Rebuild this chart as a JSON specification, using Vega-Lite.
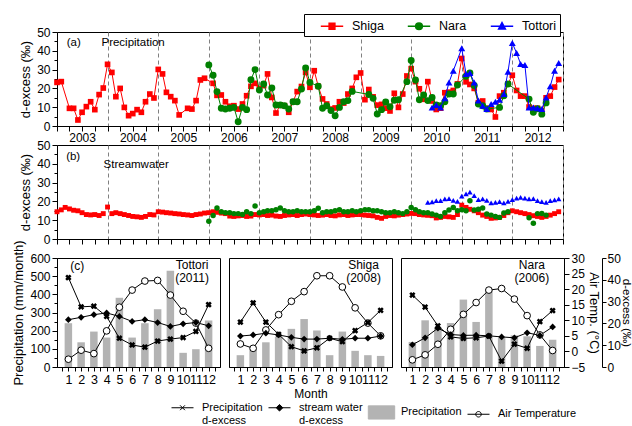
{
"$schema":"https://vega.github.io/schema/vega-lite/v6.json",
"background":"white",
"padding":{"left":12,"top":13,"right":0,"bottom":0},
"autosize":{"type":"pad"},
"config":{
 "font":"Liberation Sans",
 "view":{"stroke":"black","strokeWidth":1},
 "axis":{"domainColor":"black","tickColor":"black","labelColor":"black","titleColor":"black","labelFontSize":12,"titleFontSize":13,"titleFontWeight":"normal","grid":false,"tickSize":5,"labelPadding":2,"labelOverlap":false,"labelFlush":false},
 "point":{"opacity":1},
 "line":{"strokeWidth":1},
 "legend":{"labelColor":"black"}
},
"datasets":{
"pa":[
{"t":"2003-01-01","s":"Shiga","v":23.2},{"t":"2003-02-01","s":"Shiga","v":23.6},{"t":"2003-04-01","s":"Shiga","v":9.4},{"t":"2003-05-01","s":"Shiga","v":9.4},{"t":"2003-06-01","s":"Shiga","v":3.2},{"t":"2003-07-01","s":"Shiga","v":7.3},{"t":"2003-08-01","s":"Shiga","v":10.3},{"t":"2003-09-01","s":"Shiga","v":12.9},{"t":"2003-10-01","s":"Shiga","v":8.7},{"t":"2003-11-01","s":"Shiga","v":16.7},{"t":"2003-12-01","s":"Shiga","v":20.2},
{"t":"2004-01-01","s":"Shiga","v":32.8},{"t":"2004-02-01","s":"Shiga","v":28.5},{"t":"2004-03-01","s":"Shiga","v":15.6},{"t":"2004-04-01","s":"Shiga","v":20.0},{"t":"2004-05-01","s":"Shiga","v":9.9},{"t":"2004-06-01","s":"Shiga","v":5.5},{"t":"2004-07-01","s":"Shiga","v":6.6},{"t":"2004-08-01","s":"Shiga","v":8.7},{"t":"2004-09-01","s":"Shiga","v":7.3},{"t":"2004-10-01","s":"Shiga","v":12.9},{"t":"2004-11-01","s":"Shiga","v":17.0},{"t":"2004-12-01","s":"Shiga","v":14.9},
{"t":"2005-01-01","s":"Shiga","v":30.1},{"t":"2005-02-01","s":"Shiga","v":27.7},{"t":"2005-03-01","s":"Shiga","v":17.9},{"t":"2005-04-01","s":"Shiga","v":15.6},{"t":"2005-05-01","s":"Shiga","v":13.5},{"t":"2005-06-01","s":"Shiga","v":5.9},{"t":"2005-08-01","s":"Shiga","v":9.4},{"t":"2005-09-01","s":"Shiga","v":9.0},{"t":"2005-10-01","s":"Shiga","v":13.5},{"t":"2005-11-01","s":"Shiga","v":24.5},{"t":"2005-12-01","s":"Shiga","v":25.4},
{"t":"2006-02-01","s":"Shiga","v":22.7},{"t":"2006-03-01","s":"Shiga","v":16.3},{"t":"2006-04-01","s":"Shiga","v":16.5},{"t":"2006-05-01","s":"Shiga","v":12.9},{"t":"2006-06-01","s":"Shiga","v":10.5},{"t":"2006-07-01","s":"Shiga","v":10.8},{"t":"2006-08-01","s":"Shiga","v":9.0},{"t":"2006-09-01","s":"Shiga","v":11.7},{"t":"2006-10-01","s":"Shiga","v":16.1},{"t":"2006-11-01","s":"Shiga","v":21.1},{"t":"2006-12-01","s":"Shiga","v":22.7},
{"t":"2007-01-01","s":"Shiga","v":20.0},{"t":"2007-02-01","s":"Shiga","v":21.5},{"t":"2007-03-01","s":"Shiga","v":27.7},{"t":"2007-04-01","s":"Shiga","v":15.2},{"t":"2007-05-01","s":"Shiga","v":6.9},{"t":"2007-06-01","s":"Shiga","v":11.2},{"t":"2007-07-01","s":"Shiga","v":10.8},{"t":"2007-08-01","s":"Shiga","v":7.3},{"t":"2007-09-01","s":"Shiga","v":12.9},{"t":"2007-10-01","s":"Shiga","v":18.3},{"t":"2007-11-01","s":"Shiga","v":21.0},{"t":"2007-12-01","s":"Shiga","v":28.5},
{"t":"2008-01-01","s":"Shiga","v":20.6},{"t":"2008-02-01","s":"Shiga","v":29.4},{"t":"2008-03-01","s":"Shiga","v":21.1},{"t":"2008-04-01","s":"Shiga","v":14.4},{"t":"2008-05-01","s":"Shiga","v":11.7},{"t":"2008-06-01","s":"Shiga","v":9.0},{"t":"2008-07-01","s":"Shiga","v":9.6},{"t":"2008-08-01","s":"Shiga","v":12.9},{"t":"2008-09-01","s":"Shiga","v":12.2},{"t":"2008-10-01","s":"Shiga","v":17.0},{"t":"2008-11-01","s":"Shiga","v":20.0},{"t":"2008-12-01","s":"Shiga","v":25.9},
{"t":"2009-01-01","s":"Shiga","v":28.2},{"t":"2009-02-01","s":"Shiga","v":14.0},{"t":"2009-03-01","s":"Shiga","v":19.4},{"t":"2009-04-01","s":"Shiga","v":15.5},{"t":"2009-05-01","s":"Shiga","v":11.1},{"t":"2009-06-01","s":"Shiga","v":11.5},{"t":"2009-07-01","s":"Shiga","v":9.5},{"t":"2009-08-01","s":"Shiga","v":8.0},{"t":"2009-09-01","s":"Shiga","v":17.4},{"t":"2009-10-01","s":"Shiga","v":9.9},{"t":"2009-11-01","s":"Shiga","v":17.0},{"t":"2009-12-01","s":"Shiga","v":26.6},
{"t":"2010-01-01","s":"Shiga","v":30.5},{"t":"2010-02-01","s":"Shiga","v":23.6},{"t":"2010-03-01","s":"Shiga","v":19.8},{"t":"2010-04-01","s":"Shiga","v":14.2},{"t":"2010-05-01","s":"Shiga","v":23.6},{"t":"2010-06-01","s":"Shiga","v":13.3},{"t":"2010-07-01","s":"Shiga","v":8.8},{"t":"2010-08-01","s":"Shiga","v":9.5},{"t":"2010-09-01","s":"Shiga","v":17.7},{"t":"2010-10-01","s":"Shiga","v":18.0},{"t":"2010-11-01","s":"Shiga","v":18.9},{"t":"2010-12-01","s":"Shiga","v":22.4},
{"t":"2011-01-01","s":"Shiga","v":35.9},{"t":"2011-02-01","s":"Shiga","v":23.5},{"t":"2011-03-01","s":"Shiga","v":22.1},{"t":"2011-04-01","s":"Shiga","v":20.0},{"t":"2011-05-01","s":"Shiga","v":12.4},{"t":"2011-06-01","s":"Shiga","v":13.3},{"t":"2011-07-01","s":"Shiga","v":9.4},{"t":"2011-08-01","s":"Shiga","v":8.8},{"t":"2011-09-01","s":"Shiga","v":4.8},{"t":"2011-10-01","s":"Shiga","v":15.9},{"t":"2011-11-01","s":"Shiga","v":17.7},{"t":"2011-12-01","s":"Shiga","v":22.4},
{"t":"2012-01-01","s":"Shiga","v":27.0},{"t":"2012-02-01","s":"Shiga","v":18.9},{"t":"2012-03-01","s":"Shiga","v":15.9},{"t":"2012-04-01","s":"Shiga","v":15.9},{"t":"2012-05-01","s":"Shiga","v":10.1},{"t":"2012-06-01","s":"Shiga","v":9.4},{"t":"2012-07-01","s":"Shiga","v":9.4},{"t":"2012-08-01","s":"Shiga","v":8.0},{"t":"2012-09-01","s":"Shiga","v":15.0},{"t":"2012-10-01","s":"Shiga","v":15.9},{"t":"2012-11-01","s":"Shiga","v":20.7},{"t":"2012-12-01","s":"Shiga","v":24.7},
{"t":"2006-01-01","s":"Nara","v":32.5},{"t":"2006-02-01","s":"Nara","v":27.0},{"t":"2006-03-01","s":"Nara","v":18.3},{"t":"2006-04-01","s":"Nara","v":9.4},{"t":"2006-05-01","s":"Nara","v":9.0},{"t":"2006-06-01","s":"Nara","v":9.4},{"t":"2006-07-01","s":"Nara","v":9.9},{"t":"2006-08-01","s":"Nara","v":2.3},{"t":"2006-09-01","s":"Nara","v":9.9},{"t":"2006-10-01","s":"Nara","v":8.7},{"t":"2006-11-01","s":"Nara","v":24.6},{"t":"2006-12-01","s":"Nara","v":30.0},
{"t":"2007-01-01","s":"Nara","v":19.1},{"t":"2007-02-01","s":"Nara","v":22.3},{"t":"2007-03-01","s":"Nara","v":16.5},{"t":"2007-04-01","s":"Nara","v":20.2},{"t":"2007-05-01","s":"Nara","v":11.2},{"t":"2007-06-01","s":"Nara","v":11.2},{"t":"2007-07-01","s":"Nara","v":10.8},{"t":"2007-08-01","s":"Nara","v":9.0},{"t":"2007-09-01","s":"Nara","v":12.9},{"t":"2007-10-01","s":"Nara","v":12.9},{"t":"2007-11-01","s":"Nara","v":19.7},{"t":"2007-12-01","s":"Nara","v":30.9},
{"t":"2008-01-01","s":"Nara","v":23.2},{"t":"2008-03-01","s":"Nara","v":21.1},{"t":"2008-04-01","s":"Nara","v":9.4},{"t":"2008-05-01","s":"Nara","v":10.8},{"t":"2008-06-01","s":"Nara","v":8.2},{"t":"2008-07-01","s":"Nara","v":5.5},{"t":"2008-08-01","s":"Nara","v":9.9},{"t":"2008-09-01","s":"Nara","v":12.9},{"t":"2008-10-01","s":"Nara","v":13.5},{"t":"2008-11-01","s":"Nara","v":18.4},
{"t":"2009-03-01","s":"Nara","v":16.8},{"t":"2009-04-01","s":"Nara","v":14.7},{"t":"2009-05-01","s":"Nara","v":6.4},{"t":"2009-06-01","s":"Nara","v":8.7},{"t":"2009-07-01","s":"Nara","v":12.8},{"t":"2009-08-01","s":"Nara","v":10.2},{"t":"2009-09-01","s":"Nara","v":13.7},{"t":"2009-10-01","s":"Nara","v":14.0},{"t":"2009-12-01","s":"Nara","v":23.6},
{"t":"2010-01-01","s":"Nara","v":34.8},{"t":"2010-02-01","s":"Nara","v":24.5},{"t":"2010-03-01","s":"Nara","v":14.0},{"t":"2010-04-01","s":"Nara","v":16.5},{"t":"2010-05-01","s":"Nara","v":13.5},{"t":"2010-06-01","s":"Nara","v":15.2},{"t":"2010-07-01","s":"Nara","v":11.2},{"t":"2010-08-01","s":"Nara","v":10.8},{"t":"2010-09-01","s":"Nara","v":12.9},{"t":"2010-10-01","s":"Nara","v":17.0},{"t":"2010-11-01","s":"Nara","v":17.0},{"t":"2010-12-01","s":"Nara","v":21.8},
{"t":"2011-02-01","s":"Nara","v":26.5},{"t":"2011-03-01","s":"Nara","v":28.2},{"t":"2011-04-01","s":"Nara","v":21.5},{"t":"2011-05-01","s":"Nara","v":11.7},{"t":"2011-06-01","s":"Nara","v":10.8},{"t":"2011-07-01","s":"Nara","v":9.0},{"t":"2011-10-01","s":"Nara","v":9.9},{"t":"2011-11-01","s":"Nara","v":16.1},{"t":"2011-12-01","s":"Nara","v":22.3},
{"t":"2012-05-01","s":"Nara","v":14.3},{"t":"2012-06-01","s":"Nara","v":7.3},{"t":"2012-07-01","s":"Nara","v":9.2},{"t":"2012-08-01","s":"Nara","v":6.3},{"t":"2012-09-01","s":"Nara","v":12.3},
{"t":"2010-06-01","s":"Tottori","v":9.9},{"t":"2010-07-01","s":"Tottori","v":11.2},{"t":"2010-08-01","s":"Tottori","v":9.9},{"t":"2010-09-01","s":"Tottori","v":14.7},{"t":"2010-10-01","s":"Tottori","v":23.2},{"t":"2010-11-01","s":"Tottori","v":29.4},
{"t":"2011-01-01","s":"Tottori","v":41.3},{"t":"2011-02-01","s":"Tottori","v":27.7},{"t":"2011-03-01","s":"Tottori","v":28.2},{"t":"2011-04-01","s":"Tottori","v":23.2},{"t":"2011-05-01","s":"Tottori","v":13.5},{"t":"2011-06-01","s":"Tottori","v":10.8},{"t":"2011-07-01","s":"Tottori","v":9.0},{"t":"2011-08-01","s":"Tottori","v":11.7},{"t":"2011-09-01","s":"Tottori","v":12.9},{"t":"2011-10-01","s":"Tottori","v":14.0},{"t":"2011-11-01","s":"Tottori","v":17.0},{"t":"2011-12-01","s":"Tottori","v":28.9},
{"t":"2012-01-01","s":"Tottori","v":44.1},{"t":"2012-02-01","s":"Tottori","v":38.8},{"t":"2012-03-01","s":"Tottori","v":33.0},{"t":"2012-04-01","s":"Tottori","v":32.4},{"t":"2012-05-01","s":"Tottori","v":9.9},{"t":"2012-06-01","s":"Tottori","v":9.9},{"t":"2012-07-01","s":"Tottori","v":9.4},{"t":"2012-08-01","s":"Tottori","v":9.0},{"t":"2012-09-01","s":"Tottori","v":15.2},{"t":"2012-10-01","s":"Tottori","v":21.1},{"t":"2012-11-01","s":"Tottori","v":29.4},{"t":"2012-12-01","s":"Tottori","v":33.5}
],
"pb":[
{"t":"2003-01-01","s":"Shiga","v":14.5},{"t":"2003-02-01","s":"Shiga","v":15.5},{"t":"2003-03-01","s":"Shiga","v":16.8},{"t":"2003-04-01","s":"Shiga","v":16.0},{"t":"2003-05-01","s":"Shiga","v":15.3},{"t":"2003-06-01","s":"Shiga","v":15.0},{"t":"2003-07-01","s":"Shiga","v":14.0},{"t":"2003-08-01","s":"Shiga","v":13.0},{"t":"2003-09-01","s":"Shiga","v":12.8},{"t":"2003-10-01","s":"Shiga","v":13.0},{"t":"2003-11-01","s":"Shiga","v":12.5},{"t":"2003-12-01","s":"Shiga","v":13.5},
{"t":"2004-01-01","s":"Shiga","v":17.0},{"t":"2004-02-01","s":"Shiga","v":13.5},{"t":"2004-03-01","s":"Shiga","v":14.0},{"t":"2004-04-01","s":"Shiga","v":13.5},{"t":"2004-05-01","s":"Shiga","v":13.0},{"t":"2004-06-01","s":"Shiga","v":12.5},{"t":"2004-07-01","s":"Shiga","v":12.0},{"t":"2004-08-01","s":"Shiga","v":11.8},{"t":"2004-09-01","s":"Shiga","v":11.5},{"t":"2004-10-01","s":"Shiga","v":12.0},{"t":"2004-11-01","s":"Shiga","v":13.0},{"t":"2004-12-01","s":"Shiga","v":12.8},
{"t":"2005-01-01","s":"Shiga","v":14.5},{"t":"2005-02-01","s":"Shiga","v":14.3},{"t":"2005-03-01","s":"Shiga","v":14.0},{"t":"2005-04-01","s":"Shiga","v":13.8},{"t":"2005-05-01","s":"Shiga","v":13.5},{"t":"2005-06-01","s":"Shiga","v":13.3},{"t":"2005-07-01","s":"Shiga","v":13.0},{"t":"2005-08-01","s":"Shiga","v":12.8},{"t":"2005-09-01","s":"Shiga","v":12.5},{"t":"2005-10-01","s":"Shiga","v":13.0},{"t":"2005-11-01","s":"Shiga","v":13.3},{"t":"2005-12-01","s":"Shiga","v":13.8},
{"t":"2006-01-01","s":"Shiga","v":14.0},{"t":"2006-02-01","s":"Shiga","v":14.5},{"t":"2006-03-01","s":"Shiga","v":14.2},{"t":"2006-04-01","s":"Shiga","v":13.8},{"t":"2006-05-01","s":"Shiga","v":13.5},{"t":"2006-06-01","s":"Shiga","v":12.2},{"t":"2006-07-01","s":"Shiga","v":12.0},{"t":"2006-08-01","s":"Shiga","v":12.3},{"t":"2006-09-01","s":"Shiga","v":12.5},{"t":"2006-10-01","s":"Shiga","v":12.0},{"t":"2006-11-01","s":"Shiga","v":12.2},{"t":"2006-12-01","s":"Shiga","v":13.0},
{"t":"2007-01-01","s":"Shiga","v":12.8},{"t":"2007-02-01","s":"Shiga","v":13.0},{"t":"2007-03-01","s":"Shiga","v":12.5},{"t":"2007-04-01","s":"Shiga","v":12.7},{"t":"2007-05-01","s":"Shiga","v":12.2},{"t":"2007-06-01","s":"Shiga","v":12.0},{"t":"2007-07-01","s":"Shiga","v":12.5},{"t":"2007-08-01","s":"Shiga","v":12.8},{"t":"2007-09-01","s":"Shiga","v":13.0},{"t":"2007-10-01","s":"Shiga","v":12.5},{"t":"2007-11-01","s":"Shiga","v":13.0},{"t":"2007-12-01","s":"Shiga","v":13.3},
{"t":"2008-01-01","s":"Shiga","v":13.0},{"t":"2008-02-01","s":"Shiga","v":12.8},{"t":"2008-03-01","s":"Shiga","v":12.5},{"t":"2008-04-01","s":"Shiga","v":12.7},{"t":"2008-05-01","s":"Shiga","v":13.0},{"t":"2008-06-01","s":"Shiga","v":12.5},{"t":"2008-07-01","s":"Shiga","v":12.3},{"t":"2008-08-01","s":"Shiga","v":12.8},{"t":"2008-09-01","s":"Shiga","v":13.0},{"t":"2008-10-01","s":"Shiga","v":12.5},{"t":"2008-11-01","s":"Shiga","v":12.8},{"t":"2008-12-01","s":"Shiga","v":13.0},
{"t":"2009-01-01","s":"Shiga","v":13.0},{"t":"2009-02-01","s":"Shiga","v":12.7},{"t":"2009-03-01","s":"Shiga","v":12.5},{"t":"2009-04-01","s":"Shiga","v":12.3},{"t":"2009-05-01","s":"Shiga","v":11.5},{"t":"2009-06-01","s":"Shiga","v":11.0},{"t":"2009-07-01","s":"Shiga","v":12.0},{"t":"2009-08-01","s":"Shiga","v":12.5},{"t":"2009-09-01","s":"Shiga","v":12.3},{"t":"2009-10-01","s":"Shiga","v":12.7},{"t":"2009-11-01","s":"Shiga","v":13.0},{"t":"2009-12-01","s":"Shiga","v":13.3},
{"t":"2010-01-01","s":"Shiga","v":13.6},{"t":"2010-02-01","s":"Shiga","v":13.5},{"t":"2010-03-01","s":"Shiga","v":13.0},{"t":"2010-04-01","s":"Shiga","v":12.8},{"t":"2010-05-01","s":"Shiga","v":12.6},{"t":"2010-06-01","s":"Shiga","v":12.4},{"t":"2010-07-01","s":"Shiga","v":11.2},{"t":"2010-08-01","s":"Shiga","v":11.5},{"t":"2010-09-01","s":"Shiga","v":12.0},{"t":"2010-10-01","s":"Shiga","v":11.8},{"t":"2010-11-01","s":"Shiga","v":11.5},{"t":"2010-12-01","s":"Shiga","v":13.0},
{"t":"2011-01-01","s":"Shiga","v":18.0},{"t":"2011-02-01","s":"Shiga","v":16.8},{"t":"2011-03-01","s":"Shiga","v":15.8},{"t":"2011-04-01","s":"Shiga","v":15.0},{"t":"2011-05-01","s":"Shiga","v":14.0},{"t":"2011-06-01","s":"Shiga","v":12.7},{"t":"2011-07-01","s":"Shiga","v":12.0},{"t":"2011-08-01","s":"Shiga","v":11.0},{"t":"2011-09-01","s":"Shiga","v":11.2},{"t":"2011-10-01","s":"Shiga","v":11.5},{"t":"2011-11-01","s":"Shiga","v":12.5},{"t":"2011-12-01","s":"Shiga","v":14.0},
{"t":"2012-01-01","s":"Shiga","v":15.0},{"t":"2012-02-01","s":"Shiga","v":14.5},{"t":"2012-03-01","s":"Shiga","v":14.0},{"t":"2012-04-01","s":"Shiga","v":13.5},{"t":"2012-05-01","s":"Shiga","v":13.0},{"t":"2012-06-01","s":"Shiga","v":12.4},{"t":"2012-07-01","s":"Shiga","v":12.0},{"t":"2012-08-01","s":"Shiga","v":11.5},{"t":"2012-09-01","s":"Shiga","v":12.0},{"t":"2012-10-01","s":"Shiga","v":12.7},{"t":"2012-11-01","s":"Shiga","v":13.5},{"t":"2012-12-01","s":"Shiga","v":14.5},
{"t":"2006-01-01","s":"Nara","v":9.5},{"t":"2006-02-01","s":"Nara","v":12.5},{"t":"2006-03-01","s":"Nara","v":16.5},{"t":"2006-04-01","s":"Nara","v":14.5},{"t":"2006-05-01","s":"Nara","v":14.0},{"t":"2006-06-01","s":"Nara","v":14.0},{"t":"2006-07-01","s":"Nara","v":13.5},{"t":"2006-08-01","s":"Nara","v":13.5},{"t":"2006-09-01","s":"Nara","v":13.0},{"t":"2006-10-01","s":"Nara","v":14.5},{"t":"2006-11-01","s":"Nara","v":13.5},{"t":"2006-12-01","s":"Nara","v":17.5},
{"t":"2007-01-01","s":"Nara","v":14.0},{"t":"2007-02-01","s":"Nara","v":14.5},{"t":"2007-03-01","s":"Nara","v":15.0},{"t":"2007-04-01","s":"Nara","v":15.0},{"t":"2007-05-01","s":"Nara","v":15.5},{"t":"2007-06-01","s":"Nara","v":16.5},{"t":"2007-07-01","s":"Nara","v":15.0},{"t":"2007-08-01","s":"Nara","v":14.5},{"t":"2007-09-01","s":"Nara","v":14.5},{"t":"2007-10-01","s":"Nara","v":15.0},{"t":"2007-11-01","s":"Nara","v":14.5},{"t":"2007-12-01","s":"Nara","v":14.5},
{"t":"2008-01-01","s":"Nara","v":14.5},{"t":"2008-02-01","s":"Nara","v":15.0},{"t":"2008-03-01","s":"Nara","v":16.3},{"t":"2008-04-01","s":"Nara","v":14.0},{"t":"2008-05-01","s":"Nara","v":14.5},{"t":"2008-06-01","s":"Nara","v":14.5},{"t":"2008-07-01","s":"Nara","v":15.0},{"t":"2008-08-01","s":"Nara","v":15.5},{"t":"2008-09-01","s":"Nara","v":14.5},{"t":"2008-10-01","s":"Nara","v":14.5},{"t":"2008-11-01","s":"Nara","v":15.0},{"t":"2008-12-01","s":"Nara","v":14.5},
{"t":"2009-01-01","s":"Nara","v":15.0},{"t":"2009-02-01","s":"Nara","v":15.5},{"t":"2009-03-01","s":"Nara","v":15.5},{"t":"2009-04-01","s":"Nara","v":15.0},{"t":"2009-05-01","s":"Nara","v":15.0},{"t":"2009-06-01","s":"Nara","v":14.5},{"t":"2009-07-01","s":"Nara","v":14.0},{"t":"2009-08-01","s":"Nara","v":14.0},{"t":"2009-09-01","s":"Nara","v":14.5},{"t":"2009-10-01","s":"Nara","v":14.0},{"t":"2009-11-01","s":"Nara","v":13.5},{"t":"2009-12-01","s":"Nara","v":14.5},
{"t":"2010-01-01","s":"Nara","v":16.8},{"t":"2010-02-01","s":"Nara","v":15.5},{"t":"2010-03-01","s":"Nara","v":14.5},{"t":"2010-04-01","s":"Nara","v":14.0},{"t":"2010-05-01","s":"Nara","v":14.0},{"t":"2010-06-01","s":"Nara","v":13.3},{"t":"2010-07-01","s":"Nara","v":12.7},{"t":"2010-08-01","s":"Nara","v":12.0},{"t":"2010-09-01","s":"Nara","v":14.0},{"t":"2010-10-01","s":"Nara","v":15.4},{"t":"2010-11-01","s":"Nara","v":16.8},{"t":"2010-12-01","s":"Nara","v":15.0},
{"t":"2011-01-01","s":"Nara","v":15.5},{"t":"2011-02-01","s":"Nara","v":15.0},{"t":"2011-03-01","s":"Nara","v":20.4},{"t":"2011-04-01","s":"Nara","v":15.4},{"t":"2011-05-01","s":"Nara","v":15.8},{"t":"2011-06-01","s":"Nara","v":16.5},{"t":"2011-07-01","s":"Nara","v":13.3},{"t":"2011-08-01","s":"Nara","v":12.7},{"t":"2011-09-01","s":"Nara","v":12.0},{"t":"2011-10-01","s":"Nara","v":11.5},{"t":"2011-11-01","s":"Nara","v":13.8},{"t":"2011-12-01","s":"Nara","v":14.5},
{"t":"2012-05-01","s":"Nara","v":11.3},{"t":"2012-06-01","s":"Nara","v":8.4},{"t":"2012-07-01","s":"Nara","v":13.5},{"t":"2012-08-01","s":"Nara","v":13.6},{"t":"2012-09-01","s":"Nara","v":12.7},
{"t":"2010-05-01","s":"Tottori","v":19.5},{"t":"2010-06-01","s":"Tottori","v":19.8},{"t":"2010-07-01","s":"Tottori","v":20.4},{"t":"2010-08-01","s":"Tottori","v":20.4},{"t":"2010-09-01","s":"Tottori","v":21.3},{"t":"2010-10-01","s":"Tottori","v":21.5},{"t":"2010-11-01","s":"Tottori","v":20.5},{"t":"2010-12-01","s":"Tottori","v":20.0},
{"t":"2011-01-01","s":"Tottori","v":22.8},{"t":"2011-02-01","s":"Tottori","v":24.0},{"t":"2011-03-01","s":"Tottori","v":24.9},{"t":"2011-04-01","s":"Tottori","v":23.1},{"t":"2011-05-01","s":"Tottori","v":21.0},{"t":"2011-06-01","s":"Tottori","v":21.3},{"t":"2011-07-01","s":"Tottori","v":20.5},{"t":"2011-08-01","s":"Tottori","v":19.2},{"t":"2011-09-01","s":"Tottori","v":19.5},{"t":"2011-10-01","s":"Tottori","v":19.9},{"t":"2011-11-01","s":"Tottori","v":19.2},{"t":"2011-12-01","s":"Tottori","v":20.0},
{"t":"2012-01-01","s":"Tottori","v":21.0},{"t":"2012-02-01","s":"Tottori","v":21.7},{"t":"2012-03-01","s":"Tottori","v":22.2},{"t":"2012-04-01","s":"Tottori","v":21.7},{"t":"2012-05-01","s":"Tottori","v":21.3},{"t":"2012-06-01","s":"Tottori","v":21.5},{"t":"2012-07-01","s":"Tottori","v":20.4},{"t":"2012-08-01","s":"Tottori","v":19.9},{"t":"2012-09-01","s":"Tottori","v":19.5},{"t":"2012-10-01","s":"Tottori","v":20.4},{"t":"2012-11-01","s":"Tottori","v":20.8},{"t":"2012-12-01","s":"Tottori","v":21.3}
],
"pc":[
{"site":"Tottori","k":"P","m":1,"v":241},{"site":"Tottori","k":"P","m":2,"v":136},{"site":"Tottori","k":"P","m":3,"v":195},{"site":"Tottori","k":"P","m":4,"v":162},{"site":"Tottori","k":"P","m":5,"v":381},{"site":"Tottori","k":"P","m":6,"v":162},{"site":"Tottori","k":"P","m":7,"v":241},{"site":"Tottori","k":"P","m":8,"v":318},{"site":"Tottori","k":"P","m":9,"v":530},{"site":"Tottori","k":"P","m":10,"v":78},{"site":"Tottori","k":"P","m":11,"v":98},{"site":"Tottori","k":"P","m":12,"v":256},
{"site":"Tottori","k":"T","m":1,"v":-2.5},{"site":"Tottori","k":"T","m":2,"v":0.4},{"site":"Tottori","k":"T","m":3,"v":-0.7},{"site":"Tottori","k":"T","m":4,"v":6.6},{"site":"Tottori","k":"T","m":5,"v":14.2},{"site":"Tottori","k":"T","m":6,"v":19.7},{"site":"Tottori","k":"T","m":7,"v":22.6},{"site":"Tottori","k":"T","m":8,"v":22.8},{"site":"Tottori","k":"T","m":9,"v":18.1},{"site":"Tottori","k":"T","m":10,"v":12.9},{"site":"Tottori","k":"T","m":11,"v":9.1},{"site":"Tottori","k":"T","m":12,"v":1.0},
{"site":"Tottori","k":"dP","m":1,"v":41.0},{"site":"Tottori","k":"dP","m":2,"v":27.6},{"site":"Tottori","k":"dP","m":3,"v":27.9},{"site":"Tottori","k":"dP","m":4,"v":23.2},{"site":"Tottori","k":"dP","m":5,"v":13.2},{"site":"Tottori","k":"dP","m":6,"v":10.1},{"site":"Tottori","k":"dP","m":7,"v":9.1},{"site":"Tottori","k":"dP","m":8,"v":11.9},{"site":"Tottori","k":"dP","m":9,"v":12.8},{"site":"Tottori","k":"dP","m":10,"v":13.5},{"site":"Tottori","k":"dP","m":11,"v":16.3},{"site":"Tottori","k":"dP","m":12,"v":28.6},
{"site":"Tottori","k":"dS","m":1,"v":21.7},{"site":"Tottori","k":"dS","m":2,"v":22.8},{"site":"Tottori","k":"dS","m":3,"v":24.0},{"site":"Tottori","k":"dS","m":4,"v":24.8},{"site":"Tottori","k":"dS","m":5,"v":23.2},{"site":"Tottori","k":"dS","m":6,"v":20.9},{"site":"Tottori","k":"dS","m":7,"v":21.7},{"site":"Tottori","k":"dS","m":8,"v":20.4},{"site":"Tottori","k":"dS","m":9,"v":18.6},{"site":"Tottori","k":"dS","m":10,"v":19.8},{"site":"Tottori","k":"dS","m":11,"v":20.4},{"site":"Tottori","k":"dS","m":12,"v":18.9},
{"site":"Shiga","k":"P","m":1,"v":65},{"site":"Shiga","k":"P","m":2,"v":98},{"site":"Shiga","k":"P","m":3,"v":136},{"site":"Shiga","k":"P","m":4,"v":167},{"site":"Shiga","k":"P","m":5,"v":210},{"site":"Shiga","k":"P","m":6,"v":264},{"site":"Shiga","k":"P","m":7,"v":201},{"site":"Shiga","k":"P","m":8,"v":65},{"site":"Shiga","k":"P","m":9,"v":195},{"site":"Shiga","k":"P","m":10,"v":89},{"site":"Shiga","k":"P","m":11,"v":65},{"site":"Shiga","k":"P","m":12,"v":61},
{"site":"Shiga","k":"T","m":1,"v":2.4},{"site":"Shiga","k":"T","m":2,"v":1.0},{"site":"Shiga","k":"T","m":3,"v":6.9},{"site":"Shiga","k":"T","m":4,"v":11.8},{"site":"Shiga","k":"T","m":5,"v":16.1},{"site":"Shiga","k":"T","m":6,"v":19.2},{"site":"Shiga","k":"T","m":7,"v":24.3},{"site":"Shiga","k":"T","m":8,"v":24.3},{"site":"Shiga","k":"T","m":9,"v":20.7},{"site":"Shiga","k":"T","m":10,"v":14.0},{"site":"Shiga","k":"T","m":11,"v":9.1},{"site":"Shiga","k":"T","m":12,"v":5.0},
{"site":"Shiga","k":"dP","m":1,"v":20.6},{"site":"Shiga","k":"dP","m":2,"v":29.4},{"site":"Shiga","k":"dP","m":3,"v":20.6},{"site":"Shiga","k":"dP","m":4,"v":15.0},{"site":"Shiga","k":"dP","m":5,"v":9.3},{"site":"Shiga","k":"dP","m":6,"v":7.4},{"site":"Shiga","k":"dP","m":7,"v":8.8},{"site":"Shiga","k":"dP","m":8,"v":13.2},{"site":"Shiga","k":"dP","m":9,"v":11.6},{"site":"Shiga","k":"dP","m":10,"v":16.7},{"site":"Shiga","k":"dP","m":11,"v":20.4},{"site":"Shiga","k":"dP","m":12,"v":26.0},
{"site":"Shiga","k":"dS","m":1,"v":14.2},{"site":"Shiga","k":"dS","m":2,"v":14.7},{"site":"Shiga","k":"dS","m":3,"v":15.5},{"site":"Shiga","k":"dS","m":4,"v":14.7},{"site":"Shiga","k":"dS","m":5,"v":13.6},{"site":"Shiga","k":"dS","m":6,"v":12.8},{"site":"Shiga","k":"dS","m":7,"v":12.8},{"site":"Shiga","k":"dS","m":8,"v":13.2},{"site":"Shiga","k":"dS","m":9,"v":12.7},{"site":"Shiga","k":"dS","m":10,"v":13.2},{"site":"Shiga","k":"dS","m":11,"v":13.2},{"site":"Shiga","k":"dS","m":12,"v":14.2},
{"site":"Nara","k":"P","m":1,"v":138},{"site":"Nara","k":"P","m":2,"v":257},{"site":"Nara","k":"P","m":3,"v":220},{"site":"Nara","k":"P","m":4,"v":242},{"site":"Nara","k":"P","m":5,"v":371},{"site":"Nara","k":"P","m":6,"v":248},{"site":"Nara","k":"P","m":7,"v":422},{"site":"Nara","k":"P","m":8,"v":160},{"site":"Nara","k":"P","m":9,"v":174},{"site":"Nara","k":"P","m":10,"v":169},{"site":"Nara","k":"P","m":11,"v":116},{"site":"Nara","k":"P","m":12,"v":150},
{"site":"Nara","k":"T","m":1,"v":-2.7},{"site":"Nara","k":"T","m":2,"v":-1.1},{"site":"Nara","k":"T","m":3,"v":2.3},{"site":"Nara","k":"T","m":4,"v":7.1},{"site":"Nara","k":"T","m":5,"v":11.9},{"site":"Nara","k":"T","m":6,"v":15.7},{"site":"Nara","k":"T","m":7,"v":19.7},{"site":"Nara","k":"T","m":8,"v":20.2},{"site":"Nara","k":"T","m":9,"v":16.8},{"site":"Nara","k":"T","m":10,"v":11.5},{"site":"Nara","k":"T","m":11,"v":5.3},{"site":"Nara","k":"T","m":12,"v":0.3},
{"site":"Nara","k":"dP","m":1,"v":33.0},{"site":"Nara","k":"dP","m":2,"v":27.5},{"site":"Nara","k":"dP","m":3,"v":18.9},{"site":"Nara","k":"dP","m":4,"v":13.8},{"site":"Nara","k":"dP","m":5,"v":13.1},{"site":"Nara","k":"dP","m":6,"v":13.4},{"site":"Nara","k":"dP","m":7,"v":14.2},{"site":"Nara","k":"dP","m":8,"v":2.7},{"site":"Nara","k":"dP","m":9,"v":10.5},{"site":"Nara","k":"dP","m":10,"v":8.6},{"site":"Nara","k":"dP","m":11,"v":20.8},{"site":"Nara","k":"dP","m":12,"v":25.9},
{"site":"Nara","k":"dS","m":1,"v":10.2},{"site":"Nara","k":"dS","m":2,"v":13.4},{"site":"Nara","k":"dS","m":3,"v":17.8},{"site":"Nara","k":"dS","m":4,"v":14.9},{"site":"Nara","k":"dS","m":5,"v":14.5},{"site":"Nara","k":"dS","m":6,"v":14.6},{"site":"Nara","k":"dS","m":7,"v":14.3},{"site":"Nara","k":"dS","m":8,"v":13.8},{"site":"Nara","k":"dS","m":9,"v":13.4},{"site":"Nara","k":"dS","m":10,"v":15.7},{"site":"Nara","k":"dS","m":11,"v":14.5},{"site":"Nara","k":"dS","m":12,"v":18.4}
]
},
"bounds":"flush",
"spacing":19,
"resolve":{"scale":{"color":"independent","shape":"independent","size":"independent","fill":"independent","stroke":"independent","x":"independent","y":"independent"},"legend":{"color":"independent","shape":"independent","size":"independent","fill":"independent","stroke":"independent"}},
"vconcat":[
{
 "width":506,"height":94,
 "data":{"name":"pa"},
 "encoding":{
  "x":{"field":"t","type":"temporal","scale":{"type":"utc","domain":[{"year":2003,"month":1,"date":1,"utc":true},{"year":2013,"month":1,"date":1,"utc":true}]},
   "axis":{"title":null,"tickCount":{"interval":"month","step":3},"labelExpr":"utcmonth(datum.value)==6 ? ''+utcyear(datum.value) : ''","labelPadding":1,"tickSize":5,"grid":true,"gridColor":"#808080","gridDash":[4,3],"gridOpacity":{"condition":{"test":"utcmonth(datum.value)==0","value":1},"value":0}}},
  "y":{"field":"v","type":"quantitative","scale":{"domain":[0,50],"nice":false},
   "axis":{"title":"d-excess (‰)","values":[0,5,10,15,20,25,30,35,40,45,50],"labelExpr":"datum.value % 10 == 0 ? datum.label : ''","tickSize":{"condition":{"test":"datum.value % 10 == 0","value":5},"value":3},"titlePadding":4}}
 },
 "layer":[
  {"transform":[{"filter":"datum.s === 'Shiga'"}],"mark":{"type":"line","strokeWidth":1,"color":"#ff0000"},"encoding":{}},
  {"transform":[{"filter":"datum.s === 'Shiga'"}],"mark":{"type":"point","shape":"square","filled":true,"color":"#ff0000","size":32,"opacity":1},"encoding":{}},
  {"transform":[{"filter":"datum.s === 'Nara'"}],"mark":{"type":"line","strokeWidth":1,"color":"#008000"},"encoding":{}},
  {"transform":[{"filter":"datum.s === 'Nara'"}],"mark":{"type":"point","shape":"circle","filled":true,"color":"#008000","size":48,"opacity":1},"encoding":{}},
  {"transform":[{"filter":"datum.s === 'Tottori'"}],"mark":{"type":"line","strokeWidth":1,"color":"#0000ff"},"encoding":{}},
  {"transform":[{"filter":"datum.s === 'Tottori'"}],"mark":{"type":"point","shape":"triangle-up","filled":true,"color":"#0000ff","size":48,"opacity":1},"encoding":{}},
  {"transform":[{"filter":"false"}],"mark":{"type":"point","opacity":1,"strokeWidth":1.5},
   "encoding":{
    "shape":{"field":"s","type":"nominal","scale":{"domain":["Shiga","Nara","Tottori"],"range":["M-1.4,0H1.4M-0.36,-0.36H0.36V0.36H-0.36Z","M-1.4,0H1.4M0.42,0A0.42,0.42 0 1 1 -0.42,0A0.42,0.42 0 1 1 0.42,0Z","M-1.4,0H1.4M0,-0.45L0.42,0.33H-0.42Z"]},
     "legend":{"title":null,"orient":"none","legendX":247,"legendY":-18,"direction":"horizontal","strokeColor":"black","fillColor":"white","padding":3,"symbolSize":256,"symbolStrokeWidth":1.5,"symbolOffset":16,"labelOffset":11,"columnPadding":10,"labelFontSize":12.5}},
    "fill":{"field":"s","type":"nominal","scale":{"domain":["Shiga","Nara","Tottori"],"range":["#ff0000","#008000","#0000ff"]}},
    "stroke":{"field":"s","type":"nominal","scale":{"domain":["Shiga","Nara","Tottori"],"range":["#ff0000","#008000","#0000ff"]}}
   }},
  {"data":{"values":[{"t":"2003-03-12","v":43.9,"txt":"(a)"},{"t":"2003-11-18","v":43.9,"txt":"Precipitation"}]},
   "mark":{"type":"text","align":"left","baseline":"middle","fontSize":11.5,"color":"black"},
   "encoding":{"text":{"field":"txt"}}}
 ]
},
{
 "width":506,"height":94,
 "data":{"name":"pb"},
 "encoding":{
  "x":{"field":"t","type":"temporal","scale":{"type":"utc","domain":[{"year":2003,"month":1,"date":1,"utc":true},{"year":2013,"month":1,"date":1,"utc":true}]},
   "axis":{"title":null,"tickCount":{"interval":"month","step":3},"labels":false,"tickSize":5,"grid":true,"gridColor":"#808080","gridDash":[4,3],"gridOpacity":{"condition":{"test":"utcmonth(datum.value)==0","value":1},"value":0}}},
  "y":{"field":"v","type":"quantitative","scale":{"domain":[0,50],"nice":false},
   "axis":{"title":"d-excess (‰)","values":[0,5,10,15,20,25,30,35,40,45,50],"labelExpr":"datum.value % 10 == 0 ? datum.label : ''","tickSize":{"condition":{"test":"datum.value % 10 == 0","value":5},"value":3},"titlePadding":4}}
 },
 "layer":[
  {"transform":[{"filter":"datum.s === 'Shiga'"}],"mark":{"type":"point","shape":"square","filled":true,"color":"#ff0000","size":24,"opacity":1},"encoding":{}},
  {"transform":[{"filter":"datum.s === 'Nara'"}],"mark":{"type":"point","shape":"circle","filled":true,"color":"#008000","size":30,"opacity":1},"encoding":{}},
  {"transform":[{"filter":"datum.s === 'Tottori'"}],"mark":{"type":"point","shape":"triangle-up","filled":true,"color":"#0000ff","size":30,"opacity":1},"encoding":{}},
  {"data":{"values":[{"t":"2003-03-08","v":43.5,"txt":"(b)"},{"t":"2003-12-03","v":39.5,"txt":"Streamwater"}]},
   "mark":{"type":"text","align":"left","baseline":"middle","fontSize":11.5,"color":"black"},
   "encoding":{"text":{"field":"txt"}}}
 ]
},
{
 "bounds":"flush",
 "spacing":9,
 "hconcat":[
  {
   "width":163,"height":109,
   "data":{"name":"pc"},
   "transform":[{"filter":"datum.site === 'Tottori'"}],
   "encoding":{"x":{"field":"m","type":"quantitative","scale":{"domain":[0.5,12.5],"nice":false,"zero":false},"axis":{"title":null,"values":[0.5,1,1.5,2,2.5,3,3.5,4,4.5,5,5.5,6,6.5,7,7.5,8,8.5,9,9.5,10,10.5,11,11.5,12,12.5],"labelExpr":"datum.value % 1 == 0 ? '' + datum.value : ''","tickSize":4,"labelPadding":2,"labelFontSize":12.5}}},
   "layer":[
    {"transform":[{"filter":"datum.k === 'P'"}],"mark":{"type":"bar","size":7.5,"color":"#b3b3b3"},
     "encoding":{"y":{"field":"v","type":"quantitative","scale":{"domain":[0,600],"nice":false},"axis":{"title":"Precipitation (mm/month)","values":[0,50,100,150,200,250,300,350,400,450,500,550,600],"labelExpr":"datum.value % 100 == 0 ? datum.label : ''","tickSize":{"condition":{"test":"datum.value % 100 == 0","value":5},"value":3},"titlePadding":4}}}},
    {"transform":[{"filter":"datum.k === 'T'"}],"mark":{"type":"line","color":"black","strokeWidth":1},
     "encoding":{"y":{"field":"v","type":"quantitative","scale":{"domain":[-5,30],"nice":false,"zero":false},"axis":null}}},
    {"transform":[{"filter":"datum.k === 'dP' || datum.k === 'dS'"}],"mark":{"type":"line","color":"black","strokeWidth":1},
     "encoding":{"y":{"field":"v","type":"quantitative","scale":{"domain":[0,50],"nice":false},"axis":null},"detail":{"field":"k"}}},
    {"transform":[{"filter":"datum.k === 'T'"}],"mark":{"type":"point","shape":"circle","filled":true,"fill":"white","stroke":"black","strokeWidth":1,"size":45,"opacity":1},
     "encoding":{"y":{"field":"v","type":"quantitative","scale":{"domain":[-5,30],"nice":false,"zero":false},"axis":null}}},
    {"transform":[{"filter":"datum.k === 'dP'"}],"mark":{"type":"point","shape":"cross","filled":true,"color":"black","angle":45,"size":40,"opacity":1},
     "encoding":{"y":{"field":"v","type":"quantitative","scale":{"domain":[0,50],"nice":false},"axis":null}}},
    {"transform":[{"filter":"datum.k === 'dS'"}],"mark":{"type":"point","shape":"diamond","filled":true,"color":"black","size":45,"opacity":1},
     "encoding":{"y":{"field":"v","type":"quantitative","scale":{"domain":[0,50],"nice":false},"axis":null}}},
    {"transform":[{"filter":"false"}],"mark":{"type":"point","opacity":1,"strokeWidth":1},
     "encoding":{
      "shape":{"field":"k","type":"nominal","scale":{"domain":["dP","dS","P","T"],"range":["M-1,0H1M-0.22,-0.22L0.22,0.22M-0.22,0.22L0.22,-0.22","M-1,0H1M0,-0.3L0.3,0L0,0.3L-0.3,0Z","M-1.2,-0.6H1.2V0.6H-1.2Z","M-1,0H1M0.25,0A0.25,0.25 0 1 1 -0.25,0A0.25,0.25 0 1 1 0.25,0Z"]},
       "legend":{"title":null,"orient":"none","legendX":114,"legendY":138,"direction":"horizontal","padding":0,"symbolSize":484,"symbolStrokeWidth":1,"labelOffset":8,"columnPadding":3,"labelFontSize":11,"labelLimit":200,
        "labelExpr":"datum.value == 'dP' ? ['Precipitation','d-excess'] : datum.value == 'dS' ? ['stream water','d-excess'] : datum.value == 'P' ? 'Precipitation' : 'Air Temperature'"}},
      "fill":{"field":"k","type":"nominal","scale":{"domain":["dP","dS","P","T"],"range":["transparent","black","#b3b3b3","white"]}},
      "stroke":{"field":"k","type":"nominal","scale":{"domain":["dP","dS","P","T"],"range":["black","black","#b3b3b3","black"]}}
     }},
    {"data":{"values":[{"m":1.7,"v":583,"txt":"(c)"},{"m":10.7,"v":590,"txt":"Tottori\n(2011)"}]},"mark":{"type":"text","align":"center","baseline":"top","fontSize":12,"lineHeight":13,"lineBreak":"\n","color":"black"},
     "encoding":{"y":{"field":"v","type":"quantitative","scale":{"domain":[0,600],"nice":false},"axis":null},"text":{"field":"txt"}}}
   ],
   "resolve":{"scale":{"y":"independent"}}
  },
  {
   "width":163,"height":109,
   "data":{"name":"pc"},
   "transform":[{"filter":"datum.site === 'Shiga'"}],
   "encoding":{"x":{"field":"m","type":"quantitative","scale":{"domain":[0.5,12.5],"nice":false,"zero":false},"axis":{"title":"Month","titleFontSize":12,"titlePadding":3,"values":[0.5,1,1.5,2,2.5,3,3.5,4,4.5,5,5.5,6,6.5,7,7.5,8,8.5,9,9.5,10,10.5,11,11.5,12,12.5],"labelExpr":"datum.value % 1 == 0 ? '' + datum.value : ''","tickSize":4,"labelPadding":2,"labelFontSize":12.5}}},
   "layer":[
    {"transform":[{"filter":"datum.k === 'P'"}],"mark":{"type":"bar","size":7.5,"color":"#b3b3b3"},
     "encoding":{"y":{"field":"v","type":"quantitative","scale":{"domain":[0,600],"nice":false},"axis":null}}},
    {"transform":[{"filter":"datum.k === 'T'"}],"mark":{"type":"line","color":"black","strokeWidth":1},
     "encoding":{"y":{"field":"v","type":"quantitative","scale":{"domain":[-5,30],"nice":false,"zero":false},"axis":null}}},
    {"transform":[{"filter":"datum.k === 'dP' || datum.k === 'dS'"}],"mark":{"type":"line","color":"black","strokeWidth":1},
     "encoding":{"y":{"field":"v","type":"quantitative","scale":{"domain":[0,50],"nice":false},"axis":null},"detail":{"field":"k"}}},
    {"transform":[{"filter":"datum.k === 'T'"}],"mark":{"type":"point","shape":"circle","filled":true,"fill":"white","stroke":"black","strokeWidth":1,"size":45,"opacity":1},
     "encoding":{"y":{"field":"v","type":"quantitative","scale":{"domain":[-5,30],"nice":false,"zero":false},"axis":null}}},
    {"transform":[{"filter":"datum.k === 'dP'"}],"mark":{"type":"point","shape":"cross","filled":true,"color":"black","angle":45,"size":40,"opacity":1},
     "encoding":{"y":{"field":"v","type":"quantitative","scale":{"domain":[0,50],"nice":false},"axis":null}}},
    {"transform":[{"filter":"datum.k === 'dS'"}],"mark":{"type":"point","shape":"diamond","filled":true,"color":"black","size":45,"opacity":1},
     "encoding":{"y":{"field":"v","type":"quantitative","scale":{"domain":[0,50],"nice":false},"axis":null}}},
    {"data":{"values":[{"m":10.66,"v":590,"txt":"Shiga\n(2008)"}]},"mark":{"type":"text","align":"center","baseline":"top","fontSize":12,"lineHeight":13,"lineBreak":"\n","color":"black"},
     "encoding":{"y":{"field":"v","type":"quantitative","scale":{"domain":[0,600],"nice":false},"axis":null},"text":{"field":"txt"}}}
   ],
   "resolve":{"scale":{"y":"independent"}}
  },
  {
   "width":163,"height":109,
   "data":{"name":"pc"},
   "transform":[{"filter":"datum.site === 'Nara'"}],
   "encoding":{"x":{"field":"m","type":"quantitative","scale":{"domain":[0.5,12.5],"nice":false,"zero":false},"axis":{"title":null,"values":[0.5,1,1.5,2,2.5,3,3.5,4,4.5,5,5.5,6,6.5,7,7.5,8,8.5,9,9.5,10,10.5,11,11.5,12,12.5],"labelExpr":"datum.value % 1 == 0 ? '' + datum.value : ''","tickSize":4,"labelPadding":2,"labelFontSize":12.5}}},
   "layer":[
    {"transform":[{"filter":"datum.k === 'P'"}],"mark":{"type":"bar","size":7.5,"color":"#b3b3b3"},
     "encoding":{"y":{"field":"v","type":"quantitative","scale":{"domain":[0,600],"nice":false},"axis":null}}},
    {"transform":[{"filter":"datum.k === 'T'"}],"mark":{"type":"line","color":"black","strokeWidth":1},
     "encoding":{"y":{"field":"v","type":"quantitative","scale":{"domain":[-5,30],"nice":false,"zero":false},"axis":{"orient":"right","title":"Air Temp. (°C)","values":[-5,0,5,10,15,20,25,30],"titlePadding":2,"tickSize":5}}}},
    {"transform":[{"filter":"datum.k === 'dP' || datum.k === 'dS'"}],"mark":{"type":"line","color":"black","strokeWidth":1},
     "encoding":{"y":{"field":"v","type":"quantitative","scale":{"domain":[0,50],"nice":false},"axis":{"orient":"right","offset":38,"title":"d-excess (‰)","titleFontSize":11.5,"values":[0,10,20,30,40,50],"titlePadding":0,"labelPadding":1,"tickSize":4}},"detail":{"field":"k"}}},
    {"transform":[{"filter":"datum.k === 'T'"}],"mark":{"type":"point","shape":"circle","filled":true,"fill":"white","stroke":"black","strokeWidth":1,"size":45,"opacity":1},
     "encoding":{"y":{"field":"v","type":"quantitative","scale":{"domain":[-5,30],"nice":false,"zero":false},"axis":null}}},
    {"transform":[{"filter":"datum.k === 'dP'"}],"mark":{"type":"point","shape":"cross","filled":true,"color":"black","angle":45,"size":40,"opacity":1},
     "encoding":{"y":{"field":"v","type":"quantitative","scale":{"domain":[0,50],"nice":false},"axis":null}}},
    {"transform":[{"filter":"datum.k === 'dS'"}],"mark":{"type":"point","shape":"diamond","filled":true,"color":"black","size":45,"opacity":1},
     "encoding":{"y":{"field":"v","type":"quantitative","scale":{"domain":[0,50],"nice":false},"axis":null}}},
    {"data":{"values":[{"m":10.37,"v":590,"txt":"Nara\n(2006)"}]},"mark":{"type":"text","align":"center","baseline":"top","fontSize":12,"lineHeight":13,"lineBreak":"\n","color":"black"},
     "encoding":{"y":{"field":"v","type":"quantitative","scale":{"domain":[0,600],"nice":false},"axis":null},"text":{"field":"txt"}}}
   ],
   "resolve":{"scale":{"y":"independent"}}
  }
 ]
}
]
}
